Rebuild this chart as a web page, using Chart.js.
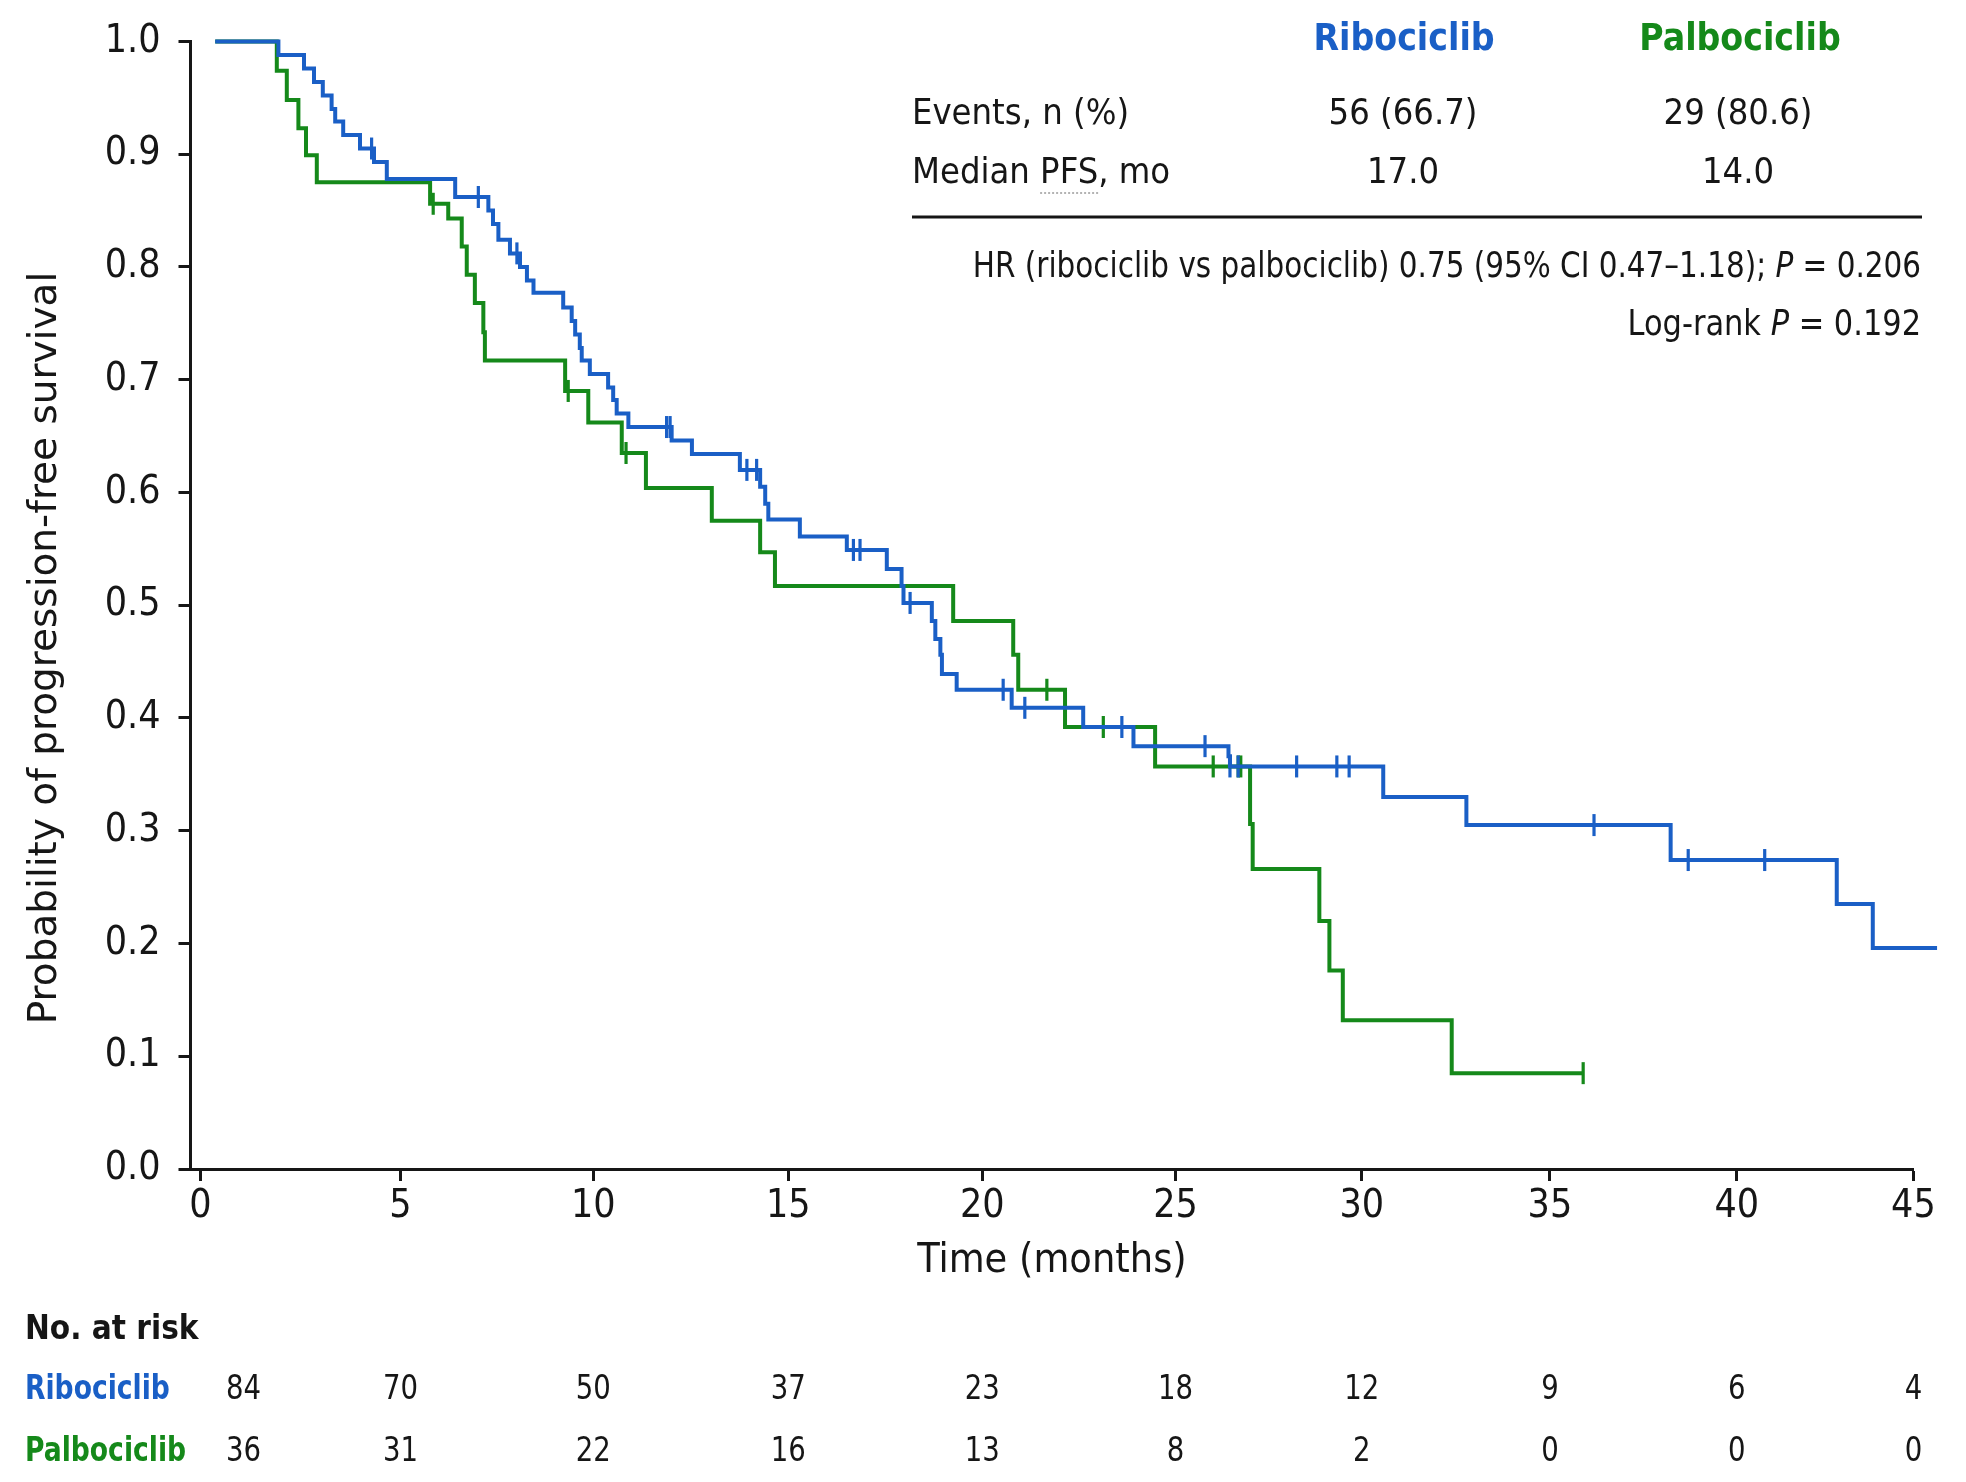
<!DOCTYPE html>
<html>
<head>
<meta charset="utf-8">
<title>PFS: ribociclib vs palbociclib</title>
<script src="https://cdn.jsdelivr.net/npm/chart.js@4.4.1/dist/chart.umd.min.js"></script>
<style>
  html, body { margin: 0; padding: 0; background: #fff; }
  #wrap { width: 1966px; height: 1482px; position: relative; }
</style>
</head>
<body>
<div id="wrap"><canvas id="kmChart"></canvas></div>
<script>
// Values (months, survival probability).
const xTickValues = [0, 5, 10, 15, 20, 25, 30, 35, 40, 45];

const ribociclibTime = [0.37, 1.95, 2.59, 2.84, 3.06, 3.28, 3.37, 3.57, 3.99, 4.34, 4.66, 6.42, 7.28, 7.40,
  7.54, 7.84, 8.10, 8.28, 8.45, 9.22, 9.44, 9.53, 9.65, 9.70, 9.91, 10.38, 10.51, 10.60, 10.90, 12.01,
  12.53, 13.76, 14.28, 14.41, 14.49, 15.30, 16.51, 17.54, 17.92, 17.97, 18.70, 18.79, 18.92, 18.96,
  19.34, 20.76, 22.61, 23.91, 26.42, 26.46, 30.57, 32.78, 38.23, 42.83, 43.85, 45.67];
const ribociclibSurv = [1.000, 0.988, 0.976, 0.964, 0.952, 0.940, 0.929, 0.917, 0.905, 0.893, 0.878, 0.862, 0.850, 0.838,
  0.824, 0.812, 0.800, 0.788, 0.777, 0.764, 0.752, 0.740, 0.728, 0.717, 0.705, 0.693, 0.682, 0.670, 0.658, 0.646,
  0.634, 0.620, 0.605, 0.590, 0.576, 0.561, 0.549, 0.532, 0.517, 0.502, 0.486, 0.470, 0.456, 0.439,
  0.425, 0.409, 0.392, 0.375, 0.366, 0.357, 0.330, 0.305, 0.274, 0.235, 0.196, 0.196];

const palbociclibTime = [0.37, 1.91, 2.16, 2.45, 2.64, 2.91, 5.77, 6.24, 6.59, 6.72, 6.93, 7.15, 7.19, 9.27,
  9.87, 10.73, 11.35, 13.04, 14.28, 14.66, 19.25, 20.80, 20.93, 22.14, 24.47, 27.00, 27.07, 28.86, 29.13,
  29.49, 32.39, 35.89];
const palbociclibSurv = [1.000, 0.974, 0.948, 0.923, 0.899, 0.875, 0.856, 0.843, 0.818, 0.793, 0.768, 0.742, 0.717, 0.690,
  0.662, 0.635, 0.604, 0.575, 0.547, 0.517, 0.486, 0.456, 0.425, 0.392, 0.357, 0.306, 0.266, 0.220, 0.176,
  0.132, 0.085, 0.085];

const ribociclibCensorTime = [4.28, 7.02, 8.02, 11.88, 11.97, 13.94, 14.19, 16.68, 16.85, 18.14, 20.54, 21.10,
  23.61, 25.79, 26.46, 26.68, 28.25, 29.33, 29.66, 36.18, 38.70, 40.79];
const ribociclibCensorSurv = [0.905, 0.862, 0.812, 0.658, 0.658, 0.620, 0.620, 0.549, 0.549, 0.502, 0.425, 0.409,
  0.392, 0.375, 0.357, 0.357, 0.357, 0.357, 0.357, 0.305, 0.274, 0.274];

const palbociclibCensorTime = [5.85, 9.35, 10.84, 21.67, 23.13, 26.01, 26.68, 26.75, 35.89];
const palbociclibCensorSurv = [0.856, 0.690, 0.635, 0.425, 0.392, 0.357, 0.357, 0.357, 0.085];

const riskTimes = [0, 5, 10, 15, 20, 25, 30, 35, 40, 45];
const ribociclibAtRisk = [84, 70, 50, 37, 23, 18, 12, 9, 6, 4];
const palbociclibAtRisk = [36, 31, 22, 16, 13, 8, 2, 0, 0, 0];

const summaryLabels = ["Events, n (%)", "Median PFS, mo"];
const ribociclibSummary = ["56 (66.7)", "17.0"];
const palbociclibSummary = ["29 (80.6)", "14.0"];
const hrText = "HR (ribociclib vs palbociclib) 0.75 (95% CI 0.47\u20131.18); ";
const hrP = "0.206";
const logRankP = "0.192";

// Styling / layout
const BLUE = "#1a5fc6";
const GREEN = "#15891a";
const INK = "#161616";
const FONT = '"DejaVu Sans Condensed", "DejaVu Sans", sans-serif';

// The source figure's time axis is not evenly spaced: where each tick sits along the axis.
const xKnotValues = [-0.25, 0, 5, 10, 15, 20, 25, 30, 35, 40, 45];
const xKnotFractions = [0, 0.00575, 0.12183, 0.23379, 0.34692, 0.45957, 0.57177, 0.67984, 0.78902, 0.8975, 1];

function warpFraction(v) {
  const n = xKnotValues.length;
  let k = 0;
  while (k < n - 2 && v > xKnotValues[k + 1]) k++;
  const v0 = xKnotValues[k], v1 = xKnotValues[k + 1];
  const f0 = xKnotFractions[k], f1 = xKnotFractions[k + 1];
  return f0 + (f1 - f0) * (v - v0) / (v1 - v0);
}

function unwarpFraction(f) {
  const n = xKnotFractions.length;
  let k = 0;
  while (k < n - 2 && f > xKnotFractions[k + 1]) k++;
  const v0 = xKnotValues[k], v1 = xKnotValues[k + 1];
  const f0 = xKnotFractions[k], f1 = xKnotFractions[k + 1];
  return v0 + (v1 - v0) * (f - f0) / (f1 - f0);
}

class WarpedTimeScale extends Chart.LinearScale {
  getPixelForValue(value) {
    if (value === null || isNaN(value)) {
      return NaN;
    }
    return this.left + this.width * warpFraction(value);
  }
  getValueForPixel(pixel) {
    return unwarpFraction((pixel - this.left) / this.width);
  }
}
WarpedTimeScale.id = "warpedTime";
WarpedTimeScale.defaults = Chart.LinearScale.defaults;
Chart.register(WarpedTimeScale);

const toPoints = (xs, ys) => xs.map((x, i) => ({ x, y: ys[i] }));

// Draw a run of differently styled text pieces, squeezed horizontally by sx.
function drawRuns(ctx, runs, x, y, align, sx) {
  let w = 0;
  runs.forEach((r) => {
    ctx.font = r[1];
    w += ctx.measureText(r[0]).width;
  });
  const start = align === "right" ? x - w * sx : align === "center" ? x - (w * sx) / 2 : x;
  ctx.save();
  ctx.translate(start, y);
  ctx.scale(sx, 1);
  ctx.textAlign = "left";
  ctx.textBaseline = "middle";
  let cx = 0;
  runs.forEach((r) => {
    ctx.font = r[1];
    ctx.fillStyle = r[2];
    ctx.fillText(r[0], cx, 0);
    cx += ctx.measureText(r[0]).width;
  });
  ctx.restore();
  return { left: start, width: w * sx };
}

const annotationPlugin = {
  id: "kmAnnotations",
  afterDraw(chart) {
    const ctx = chart.ctx;
    const xScale = chart.scales.x;

    // y axis title (placed like the original, a bit below the axis middle)
    ctx.save();
    ctx.translate(46, 648);
    ctx.rotate(-Math.PI / 2);
    ctx.font = '39px "DejaVu Sans"';
    ctx.fillStyle = INK;
    ctx.textAlign = "center";
    ctx.textBaseline = "middle";
    ctx.fillText("Probability of progression-free survival", 0, 0);
    ctx.restore();

    // summary block, top right
    const bold = `bold 37px ${FONT}`;
    const normal = `36px ${FONT}`;
    const italic = `italic 36px ${FONT}`;
    drawRuns(ctx, [["Ribociclib", bold, BLUE]], 1404, 40, "center", 1);
    drawRuns(ctx, [["Palbociclib", bold, GREEN]], 1740, 40, "center", 1);

    const rowY = [115, 174];
    summaryLabels.forEach((label, i) => {
      drawRuns(ctx, [[label, normal, INK]], 912, rowY[i], "left", 1);
      drawRuns(ctx, [[ribociclibSummary[i], normal, INK]], 1403, rowY[i], "center", 1);
      drawRuns(ctx, [[palbociclibSummary[i], normal, INK]], 1738, rowY[i], "center", 1);
    });

    // dotted underline under the "PFS" abbreviation
    ctx.font = normal;
    const pre = ctx.measureText("Median ").width;
    const pfs = ctx.measureText("PFS").width;
    ctx.save();
    ctx.strokeStyle = "#9a9a9a";
    ctx.lineWidth = 1.5;
    ctx.setLineDash([2, 2]);
    ctx.beginPath();
    ctx.moveTo(912 + pre, 174 + 19);
    ctx.lineTo(912 + pre + pfs, 174 + 19);
    ctx.stroke();
    ctx.restore();

    ctx.fillStyle = INK;
    ctx.fillRect(912, 215.5, 1010, 3);

    drawRuns(ctx, [[hrText, normal, INK], ["P", italic, INK], [" = " + hrP, normal, INK]], 1921, 268, "right", 0.91);
    drawRuns(ctx, [["Log-rank ", normal, INK], ["P", italic, INK], [" = " + logRankP, normal, INK]], 1921, 326, "right", 0.94);

    // number at risk table
    const tableBold = `bold 34px ${FONT}`;
    const tableNormal = `34px ${FONT}`;
    drawRuns(ctx, [["No. at risk", tableBold, INK]], 25, 1330, "left", 0.97);
    drawRuns(ctx, [["Ribociclib", tableBold, BLUE]], 25, 1390, "left", 0.87);
    drawRuns(ctx, [["Palbociclib", tableBold, GREEN]], 25, 1452, "left", 0.87);
    riskTimes.forEach((t, i) => {
      // first column is nudged right so it clears the row labels
      const px = xScale.getPixelForValue(t) + (i === 0 ? 43 : 0);
      drawRuns(ctx, [[String(ribociclibAtRisk[i]), tableNormal, INK]], px, 1390, "center", 0.9);
      drawRuns(ctx, [[String(palbociclibAtRisk[i]), tableNormal, INK]], px, 1452, "center", 0.9);
    });
  },
};

const axisGrid = {
  display: true,
  drawOnChartArea: false,
  drawTicks: true,
  tickLength: 12,
  tickWidth: 3,
  tickColor: INK,
};
const axisBorder = { display: true, color: INK, width: 3 };

const curveStyle = {
  type: "line",
  borderWidth: 4,
  stepped: "before",
  pointRadius: 0,
  fill: false,
  clip: false,
  borderCapStyle: "butt",
  borderJoinStyle: "miter",
};

const censorStyle = {
  type: "scatter",
  pointStyle: "line",
  rotation: 90,
  pointRadius: 11,
  pointBorderWidth: 3.2,
  clip: false,
};

new Chart(document.getElementById("kmChart"), {
  data: {
    datasets: [
      {
        ...curveStyle,
        label: "Ribociclib",
        data: toPoints(ribociclibTime, ribociclibSurv),
        borderColor: BLUE,
      },
      {
        ...curveStyle,
        label: "Palbociclib",
        data: toPoints(palbociclibTime, palbociclibSurv),
        borderColor: GREEN,
      },
      {
        ...censorStyle,
        label: "Ribociclib censored",
        data: toPoints(ribociclibCensorTime, ribociclibCensorSurv),
        borderColor: BLUE,
        backgroundColor: BLUE,
      },
      {
        ...censorStyle,
        label: "Palbociclib censored",
        data: toPoints(palbociclibCensorTime, palbociclibCensorSurv),
        borderColor: GREEN,
        backgroundColor: GREEN,
      },
    ],
  },
  options: {
    responsive: true,
    maintainAspectRatio: false,
    devicePixelRatio: 1,
    animation: false,
    layout: {
      padding: { top: 38, right: 52.6, bottom: 196, left: 0 },
    },
    scales: {
      x: {
        type: "warpedTime",
        min: -0.25,
        max: 45,
        afterBuildTicks: (scale) => {
          scale.ticks = xTickValues.map((v) => ({ value: v }));
        },
        afterFit: (scale) => {
          scale.height = 117;
        },
        ticks: {
          autoSkip: false,
          maxRotation: 0,
          padding: 2,
          color: INK,
          font: { family: FONT, size: 39 },
          callback: (v) => String(v),
        },
        grid: axisGrid,
        border: axisBorder,
        title: {
          display: true,
          text: "Time (months)",
          color: INK,
          font: { family: FONT, size: 41 },
          padding: { top: 0, bottom: 0 },
        },
      },
      y: {
        type: "linear",
        min: 0,
        max: 1,
        afterFit: (scale) => {
          scale.width = 190.5;
        },
        ticks: {
          stepSize: 0.1,
          padding: 18,
          color: INK,
          font: { family: FONT, size: 39 },
          callback: (v) => Number(v).toFixed(1),
        },
        grid: axisGrid,
        border: axisBorder,
      },
    },
    plugins: {
      legend: { display: false },
      tooltip: { enabled: false },
    },
  },
  plugins: [annotationPlugin],
});
</script>
</body>
</html>
